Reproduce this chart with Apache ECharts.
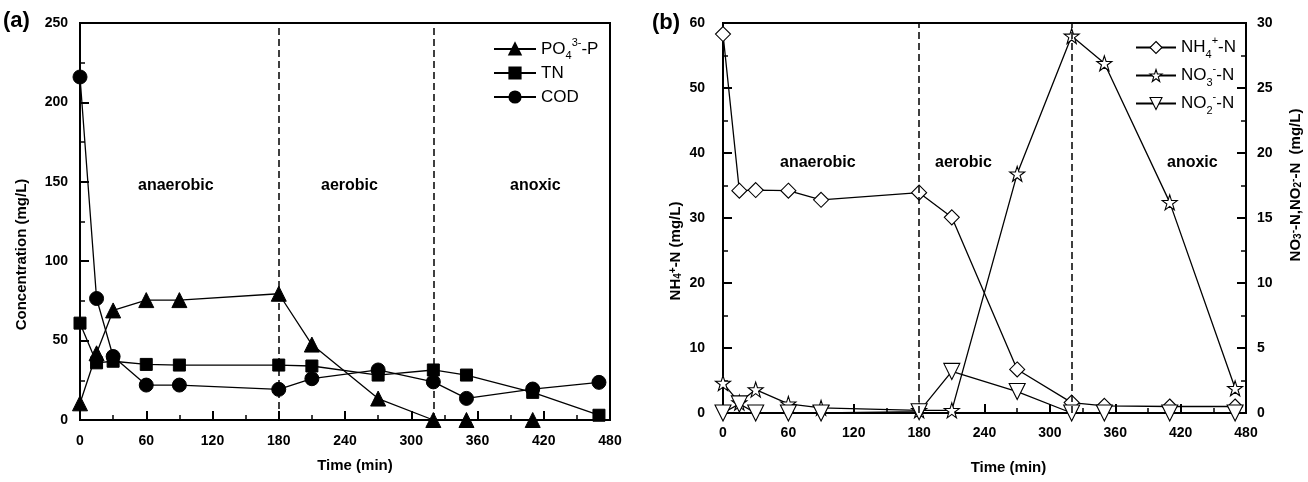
<!DOCTYPE html>
<html>
<head>
<meta charset="utf-8">
<script src="https://cdn.jsdelivr.net/npm/echarts@6/dist/echarts.min.js"></script>
<style>
  html, body { margin: 0; padding: 0; background: #fff; }
  #chart { width: 1308px; height: 482px; }
</style>
</head>
<body>
<div id="chart"></div>
<script>
// sampling times (min)
var times = [0, 15, 30, 60, 90, 180, 210, 270, 320, 350, 410, 470];

// panel (a), mg/L
var po4 = [10.5, 42, 69, 75.5, 75.5, 79.5, 47.5, 13.5, 0, 0, 0, '-'];
var tn  = [61, 36, 37, 35, 34.6, 34.6, 34, 28.3, 31.5, 28.3, 17.4, 3];
var cod = [216, 76.5, 40, 22, 22, 19.3, 26, 31.5, 24, 13.6, 19.5, 23.7];

// panel (b), mg/L  (NH4 on left axis, NO3 / NO2 on right axis)
var nh4 = [58.3, 34.2, 34.3, 34.2, 32.8, 33.9, 30.1, 6.7, 1.6, 1.1, 1.0, 1.0];
var no3 = [2.3, 0.8, 1.8, 0.7, 0.4, 0.2, 0.2, 18.4, 29.0, 26.9, 16.2, 1.9];
var no2 = [0, 0.7, 0, 0, 0, 0.1, 3.2, 1.65, 0, 0, 0, 0];

var phaseLines = [180, 320];

function pairs(vals) {
  return times.map(function (t, i) { return [t, vals[i]]; });
}

var FONT = 'Liberation Sans';
var star = 'path://M50,2 L61,36 L97,36 L68,57 L79,92 L50,71 L21,92 L32,57 L3,36 L39,36 Z';

var legendNames = {
  'PO4-P': 'PO{sub|4}{sup|3-}-P',
  'TN': 'TN',
  'COD': 'COD',
  'NH4-N': 'NH{sub|4}{sup|+}-N',
  'NO3-N': 'NO{sub|3}{sup|-}-N',
  'NO2-N': 'NO{sub|2}{sup|-}-N'
};
var richTxt = {
  sub: { fontSize: 11, lineHeight: 11, verticalAlign: 'bottom', fontFamily: FONT },
  sup: { fontSize: 11, lineHeight: 11, verticalAlign: 'top', fontFamily: FONT }
};
var richBold = {
  sub: { fontSize: 10, lineHeight: 10, verticalAlign: 'bottom', fontFamily: FONT, fontWeight: 'bold' },
  sup: { fontSize: 10, lineHeight: 10, verticalAlign: 'top', fontFamily: FONT, fontWeight: 'bold' }
};
var hollow = { color: '#fff', borderColor: '#000', borderWidth: 1.1 };

function xAxis(gi, gap) {
  return {
    type: 'value', gridIndex: gi, min: 0, max: 480, interval: 60,
    name: 'Time (min)', nameLocation: 'middle', nameGap: gap,
    nameTextStyle: { fontFamily: FONT, fontWeight: 'bold', fontSize: 15, color: '#000', padding: gi ? [0, 0, 0, 48] : [0, 0, 0, 20] },
    axisLine: { lineStyle: { color: '#000', width: 2 } },
    axisTick: { inside: true, length: 9, lineStyle: { color: '#000', width: 2 } },
    minorTick: { show: true, splitNumber: 2, length: 5, lineStyle: { color: '#000', width: 1.5 } },
    axisLabel: { fontFamily: FONT, fontWeight: 'bold', fontSize: 14, color: '#000', margin: gi ? 13 : 14 },
    splitLine: { show: false }
  };
}

function yAxis(gi, max, step, name, gap, pos, margin) {
  return {
    type: 'value', gridIndex: gi, min: 0, max: max, interval: step, position: pos,
    name: name, nameLocation: 'middle', nameGap: gap, nameRotate: 90,
    nameTextStyle: {
      fontFamily: FONT, fontWeight: 'bold', fontSize: 15, color: '#000', rich: richBold,
      padding: pos === 'right' ? [0, 0, 0, 66] : [0, 66, 0, 0]
    },
    axisLine: { show: true, lineStyle: { color: '#000', width: 2 } },
    axisTick: { inside: true, length: 9, lineStyle: { color: '#000', width: 2 } },
    minorTick: { show: true, splitNumber: 2, length: 5, lineStyle: { color: '#000', width: 1.5 } },
    axisLabel: { fontFamily: FONT, fontWeight: 'bold', fontSize: 14, color: '#000', margin: margin },
    splitLine: { show: false }
  };
}

function lineSeries(name, vals, xi, yi, symbol, size, filled, rotate) {
  return {
    name: name, type: 'line', xAxisIndex: xi, yAxisIndex: yi,
    data: pairs(vals), symbol: symbol, symbolSize: size, symbolRotate: rotate || 0,
    showAllSymbol: true, clip: false,
    lineStyle: { color: '#000', width: 1.3 },
    itemStyle: filled ? { color: '#000', borderColor: '#000', borderWidth: 1 } : hollow,
    emphasis: { disabled: true }
  };
}

function phaseMark() {
  return {
    silent: true, symbol: 'none', animation: false,
    label: { show: false },
    lineStyle: { color: '#000', width: 1.5, type: [7, 4] },
    data: phaseLines.map(function (v) { return { xAxis: v }; })
  };
}

function phaseText(x, y, txt) {
  return {
    type: 'text', left: x, top: y,
    style: { text: txt, fontFamily: FONT, fontWeight: 'bold', fontSize: 16, fill: '#000' }
  };
}

var sA = [
  lineSeries('PO4-P', po4, 0, 0, 'triangle', 15, true),
  lineSeries('TN', tn, 0, 0, 'rect', 12, true),
  lineSeries('COD', cod, 0, 0, 'circle', 14, true)
];
sA[0].markLine = phaseMark();

var sB = [
  lineSeries('NH4-N', nh4, 1, 1, 'diamond', 15, false),
  lineSeries('NO3-N', no3, 1, 2, star, 15, false),
  lineSeries('NO2-N', no2, 1, 2, 'triangle', 16, false, 180)
];
sB[0].markLine = phaseMark();

var chart = echarts.init(document.getElementById('chart'));
chart.setOption({
  animation: false,
  backgroundColor: '#fff',
  grid: [
    { left: 80, right: 698, top: 23, bottom: 62, show: true, borderColor: '#000', borderWidth: 2 },
    { left: 723, right: 62, top: 23, bottom: 69, show: true, borderColor: '#000', borderWidth: 2 }
  ],
  xAxis: [xAxis(0, 38), xAxis(1, 47)],
  yAxis: [
    yAxis(0, 250, 50, 'Concentration (mg/L)', 51, 'left', 12),
    yAxis(1, 60, 10, 'NH{sub|4}{sup|+}-N (mg/L)', 40, 'left', 18),
    yAxis(1, 30, 5, 'NO{sub|3}{sup|-}-N,NO{sub|2}{sup|-}-N  (mg/L)', 42, 'right', 11)
  ],
  legend: [
    {
      data: ['PO4-P', 'TN', 'COD'], orient: 'vertical', left: 488, top: 32,
      itemWidth: 42, itemHeight: 14, itemGap: 0,
      formatter: function (n) { return legendNames[n]; },
      textStyle: { fontFamily: FONT, fontSize: 17, lineHeight: 24, color: '#000', rich: richTxt }
    },
    {
      data: [
        { name: 'NH4-N', itemStyle: hollow },
        { name: 'NO3-N', itemStyle: hollow },
        { name: 'NO2-N', itemStyle: hollow }
      ],
      orient: 'vertical', left: 1130, top: 30,
      itemWidth: 40, itemHeight: 15, itemGap: 3,
      formatter: function (n) { return legendNames[n]; },
      textStyle: { fontFamily: FONT, fontSize: 17, lineHeight: 25, color: '#000', rich: richTxt }
    }
  ],
  graphic: [
    { type: 'text', left: 3, top: 10, style: { text: '(a)', fontFamily: FONT, fontWeight: 'bold', fontSize: 22, fill: '#000' } },
    { type: 'text', left: 652, top: 12, style: { text: '(b)', fontFamily: FONT, fontWeight: 'bold', fontSize: 22, fill: '#000' } },
    phaseText(138, 178, 'anaerobic'),
    phaseText(321, 178, 'aerobic'),
    phaseText(510, 178, 'anoxic'),
    phaseText(780, 155, 'anaerobic'),
    phaseText(935, 155, 'aerobic'),
    phaseText(1167, 155, 'anoxic')
  ],
  series: sA.concat(sB)
});
</script>
</body>
</html>
